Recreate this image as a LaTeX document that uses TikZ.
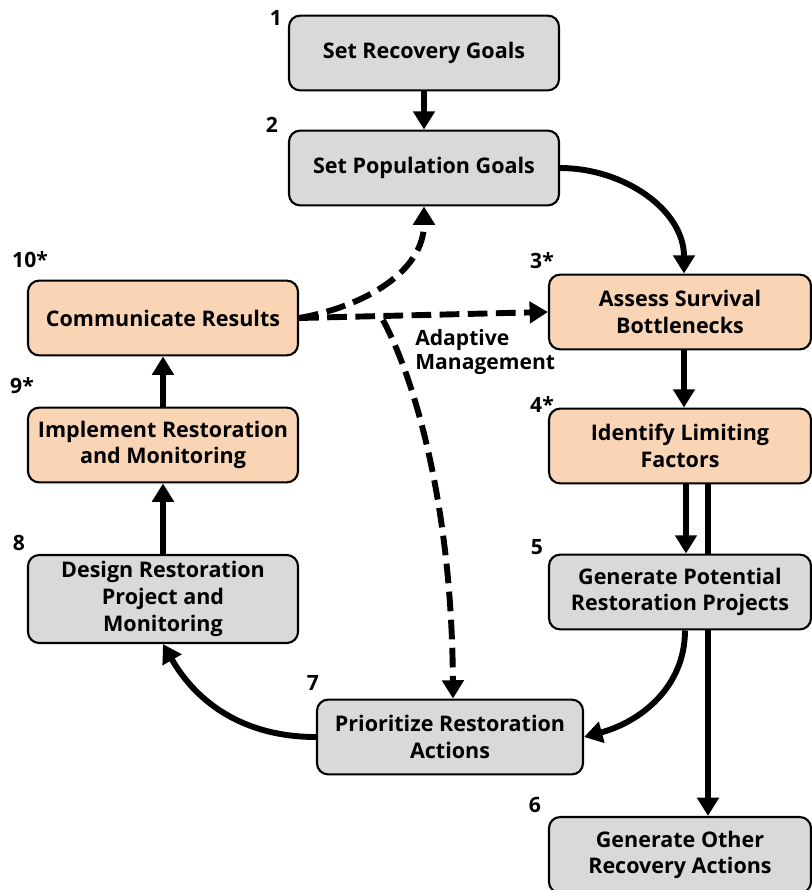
\documentclass[tikz,border=0pt]{standalone}
\usepackage{fontspec}
\setmainfont{Open Sans}
\usetikzlibrary{arrows.meta,calc}
\definecolor{peach}{RGB}{250,213,181}
\definecolor{boxgray}{RGB}{217,217,217}
\tikzset{
  stage/.style={draw, line width=1.5pt, rounded corners=8pt, fill=boxgray,
    minimum width=6.75cm, minimum height=1.87cm, inner sep=0pt, align=center,
    font=\bfseries\fontsize{15.3}{19}\selectfont},
  hot/.style={stage, fill=peach},
  num/.style={font=\bfseries\fontsize{15}{17}\selectfont, inner sep=0pt},
  flow/.style={line width=4.2pt, -{Triangle[width=15pt,length=13pt]}},
  flowdash/.style={flow, dash pattern=on 14pt off 6pt}
}
\begin{document}
\begin{tikzpicture}[x=0.025cm, y=-0.025cm]
\useasboundingbox (0,0) rectangle (811,890);
\draw[line width=4.2pt] (708,483) -- (708,630);
\node[stage] (s1) at (424,53) {Set Recovery Goals};
\node[stage] (s2) at (424,168) {Set Population Goals};
\node[hot, minimum width=6.55cm] (s3) at (680,312) {Assess Survival\\Bottlenecks};
\node[hot, minimum width=6.55cm] (s4) at (680,446) {Identify Limiting\\Factors};
\node[stage, minimum width=6.55cm] (s5) at (680,592) {Generate Potential\\Restoration Projects};
\node[stage, minimum width=6.55cm, minimum height=1.9cm] (s6) at (680,855) {Generate Other\\Recovery Actions};
\node[stage, minimum width=6.65cm] (s7) at (450,737) {Prioritize Restoration\\Actions};
\node[stage, minimum height=2.2cm] (s8) at (163,599) {Design Restoration\\Project and\\Monitoring};
\node[hot] (s9) at (163,445) {Implement Restoration\\and Monitoring};
\node[hot] (s10) at (163,318) {Communicate Results};
\node[num] (n1) at (276,18) {1};
\node[num] (n2) at (272,125) {2};
\node[num] (n3) at (542,261) {3*};
\node[num] (n4) at (542,404) {4*};
\node[num] (n5) at (537,547) {5};
\node[num] (n6) at (535,805) {6};
\node[num] (n7) at (313,683) {7};
\node[num] (n8) at (19,543) {8};
\node[num] (n9) at (22,386) {9*};
\node[num] (n10) at (30,260) {10*};
\node[num, anchor=west, align=left] (adapt) at (415,352) {Adaptive\\Management};
\coordinate (fork) at (383,320);
\draw[flow] (s1) -- (s2);
\draw[flow] (s2.east) to[out=0, in=90] ($(s3.north)+(4,0)$);
\draw[flow] ($(s3.south)+(4,0)$) -- ($(s4.north)+(4,0)$);
\draw[flow] ($(s4.south)+(6,0)$) -- ($(s5.north)+(6,0)$);
\draw[flow] ($(s5.south)+(28,0)$) -- ($(s6.north)+(28,0)$);
\draw[flow] ($(s5.south)+(5,0)$) to[out=-90, in=15] (s7.east);
\draw[flow] (s7.west) to[out=180, in=-60] (s8.south);
\draw[flow] (s8) -- (s9);
\draw[flow] (s9) -- (s10);
\draw[flowdash] (s10.east) -- (s3.west);
\draw[flowdash] (s10.east) to[out=10, in=-90] (s2.south);
\draw[flowdash] (fork) .. controls (420,390) and (452,520) .. ($(s7.north)+(3,0)$);
\end{tikzpicture}
\end{document}
